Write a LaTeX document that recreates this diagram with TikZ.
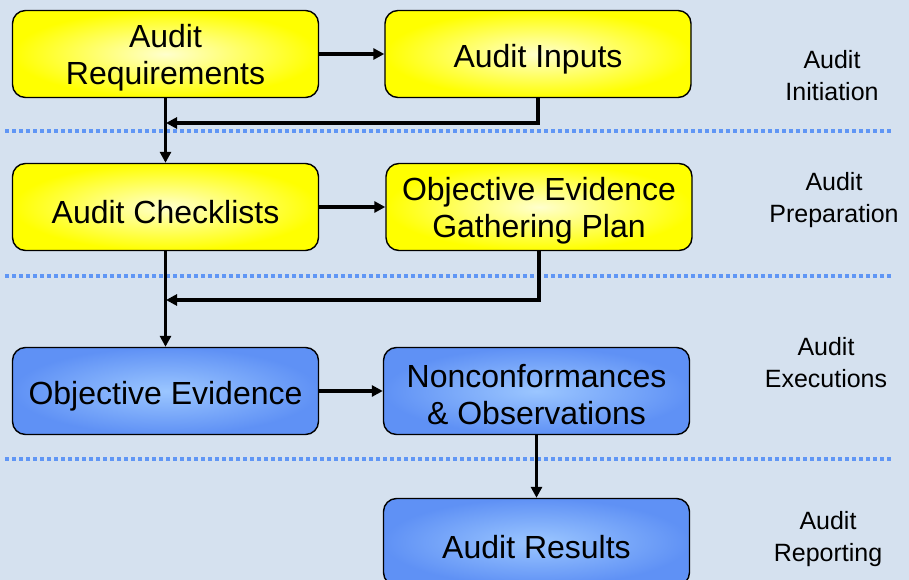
\documentclass[tikz,border=0pt]{standalone}
\usepackage{fontspec}
\setmainfont{Liberation Sans}
\usetikzlibrary{arrows.meta}
\definecolor{bgcol}{RGB}{213,225,239}
\definecolor{sepcol}{RGB}{96,150,245}
\definecolor{ylwin}{RGB}{255,255,205}
\definecolor{ylwout}{RGB}{255,255,0}
\definecolor{bluin}{RGB}{155,198,255}
\definecolor{bluout}{RGB}{95,145,245}
\tikzset{
  box/.style={draw=black, line width=1.4pt, rounded corners=13pt,
    minimum width=306pt, minimum height=87pt, inner sep=0pt,
    align=center, font=\fontsize{32}{37}\selectfont,
    execute at begin node={\rule{0pt}{33pt}}},
  twoline/.style={execute at begin node={\rule{0pt}{68pt}}},
  ybox/.style={box, shading=radial, inner color=ylwin, outer color=ylwout},
  bbox/.style={box, shading=radial, inner color=bluin, outer color=bluout},
  phase/.style={align=center, font=\fontsize{25}{32}\selectfont},
  arr/.style={line width=3.6pt, -{Triangle[length=11pt,width=11pt]}},
  sep/.style={sepcol, line width=3.5pt, dash pattern=on 3.5pt off 3.5pt},
}
\begin{document}
\begin{tikzpicture}[x=1pt,y=-1pt]
\clip (0,0) rectangle (909,580);
\fill[bgcol] (0,0) rectangle (909,580);

% phase separators
\draw[sep] (5,131) -- (893,131);
\draw[sep] (5,276) -- (893,276);
\draw[sep] (5,459) -- (893,459);

% process boxes
\node[ybox,twoline] (req)  at (165.5,54)  {Audit\\Requirements};
\node[ybox] (inp)  at (538,54)    {Audit Inputs};
\node[ybox] (chk)  at (165.5,207) {Audit Checklists};
\node[ybox,twoline] (plan) at (539,207)   {Objective Evidence\\Gathering Plan};
\node[bbox] (oe)   at (165.5,391) {Objective Evidence};
\node[bbox,twoline] (nc)   at (536.5,391) {Nonconformances\\\& Observations};
\node[bbox] (res)  at (536.5,542) {Audit Results};

% phase labels
\node[phase] (ph1) at (832,76)  {Audit\\Initiation};
\node[phase] (ph2) at (834,200) {Audit\\Preparation};
\node[phase] (ph3) at (826,363) {Audit\\Executions};
\node[phase] (ph4) at (828,539) {Audit\\Reporting};

% junction points on the vertical flows
\coordinate (j1) at (166,123);
\coordinate (j2) at (166,300);

% connectors
\draw[arr] (req.east) -- (inp.west);
\draw[arr] (req.south) -- (chk.north);
\draw[arr] (inp.south) |- (j1);
\draw[arr] (chk.east) -- (plan.west);
\draw[arr] (chk.south) -- (oe.north);
\draw[arr] (plan.south) |- (j2);
\draw[arr] (oe.east) -- (nc.west);
\draw[arr] (nc.south) -- (res.north);
\end{tikzpicture}
\end{document}
